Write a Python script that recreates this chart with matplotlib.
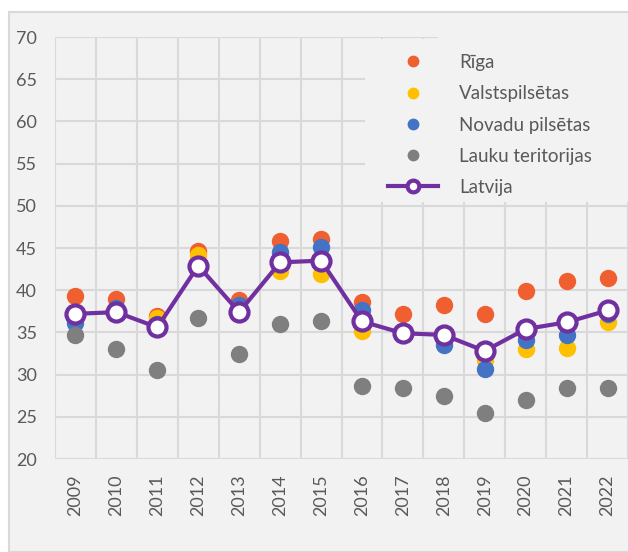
import matplotlib
matplotlib.use("Agg")
import matplotlib.pyplot as plt
from matplotlib.patches import Rectangle

years = ["2009", "2010", "2011", "2012", "2013", "2014", "2015",
         "2016", "2017", "2018", "2019", "2020", "2021", "2022"]
riga = [39.3, 38.9, 36.9, 44.7, 38.8, 45.8, 46.1, 38.6, 37.2, 38.2, 37.2, 39.9, 41.1, 41.4]
valsts = [37.0, 37.2, 36.7, 44.2, 37.6, 42.3, 41.9, 35.2, 35.0, 34.8, 31.7, 33.0, 33.1, 36.2]
novadu = [36.1, 37.9, 36.0, 43.0, 38.3, 44.5, 45.1, 37.6, 35.0, 33.5, 30.7, 34.1, 34.7, 37.2]
lauku = [34.7, 33.0, 30.5, 36.7, 32.4, 36.0, 36.3, 28.7, 28.4, 27.5, 25.4, 27.0, 28.4, 28.4]
latvija = [37.2, 37.4, 35.6, 42.9, 37.4, 43.3, 43.5, 36.3, 34.9, 34.7, 32.8, 35.4, 36.2, 37.6]

txt = "#595959"
grid = "#d9d9d9"
bg = "#f2f2f2"
plt.rcParams["font.family"] = ["Lato", "DejaVu Sans"]

W, H = 628, 552
fig = plt.figure(figsize=(6.28, 5.52), dpi=100)
fig.patch.set_facecolor("white")
fig.patches.append(Rectangle((9 / W, 0), 1, 1 - 12 / H, transform=fig.transFigure,
                             facecolor=bg, edgecolor=grid, linewidth=1.5, zorder=-1))

ax = fig.add_axes([55 / W, 1 - 459 / H, 573 / W, 422 / H])
ax.set_facecolor(bg)
x = list(range(len(years)))

ms = 11.5
ax.plot(x, riga, "o", color="#f05f2f", ms=ms, label="Rīga", zorder=3)
ax.plot(x, valsts, "o", color="#ffc000", ms=ms, label="Valstspilsētas", zorder=3)
ax.plot(x, novadu, "o", color="#4472c4", ms=ms, label="Novadu pilsētas", zorder=3)
ax.plot(x, lauku, "o", color="#7f7f7f", ms=ms, label="Lauku teritorijas", zorder=3)
ax.plot(x, latvija, "-o", color="#7030a0", lw=3, ms=13, mfc="white", mec="#7030a0",
        mew=3, label="Latvija", zorder=4)

ax.set_xlim(-0.5, 13.5)
ax.set_ylim(20, 70)
ax.set_yticks(range(20, 71, 5))
ax.set_xticks(x)
ax.set_xticklabels(years, rotation=90)
ax.set_xticks([i - 0.5 for i in range(15)], minor=True)
ax.tick_params(axis="both", which="both", length=0, colors=txt, labelsize=13)
ax.tick_params(axis="y", pad=13)
ax.tick_params(axis="x", pad=11)
ax.grid(True, axis="y", color=grid, lw=1.5, zorder=1)
ax.grid(True, axis="x", which="minor", color=grid, lw=1.5, zorder=1)
for s in ax.spines.values():
    s.set_visible(False)

# legend area hides the grid
ax.add_patch(Rectangle((365 / W, 1 - 202 / H), 1, 163 / H, transform=fig.transFigure,
                       facecolor=bg, edgecolor="none", zorder=2))
ax.add_patch(Rectangle((438 / W, 1 - 40 / H), 1, 5 / H, transform=fig.transFigure,
                       facecolor=bg, edgecolor="none", zorder=2))

leg = ax.legend(loc="upper left", bbox_to_anchor=(388 / W, 1 - 54 / H),
                bbox_transform=fig.transFigure, fontsize=13.5, frameon=False,
                labelspacing=0.76, handlelength=2.67, handletextpad=1.12,
                borderpad=0, borderaxespad=0, markerscale=0.65)
leg.set_zorder(5)
for t in leg.get_texts():
    t.set_color(txt)

fig.savefig("out.png", dpi=100)
